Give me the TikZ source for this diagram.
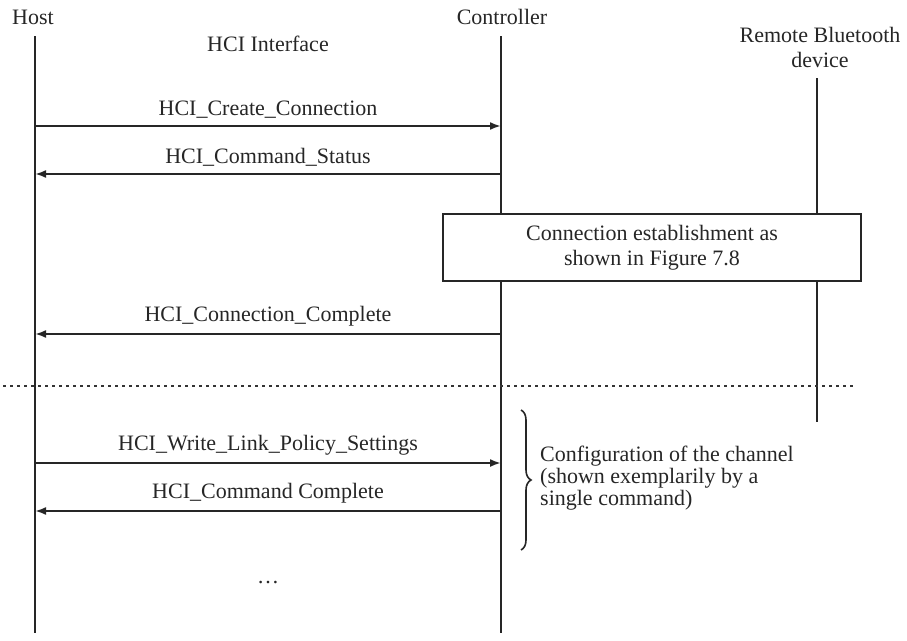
\documentclass[tikz,border=0pt]{standalone}
\usepackage{fontspec}
\setmainfont{Liberation Serif}
\usetikzlibrary{arrows.meta,decorations.pathreplacing}
\begin{document}
\begin{tikzpicture}[x=1pt,y=-1pt,
  every node/.style={font=\fontsize{22}{25}\selectfont, inner sep=0pt, text=black!85},
  lifeline/.style={line width=2.4pt, draw=black!85},
  msg/.style={line width=2pt, draw=black!85, -{Latex[length=11pt,width=8pt]}},
  lbl/.style={anchor=south, yshift=7pt},
  procbox/.style={draw=black!85, line width=2.4pt, fill=white, minimum width=418pt, minimum height=67pt, align=center},
  sep/.style={line width=2.8pt, draw=black!80, dash pattern=on 2.8pt off 4.2pt}]
\useasboundingbox (0,0) rectangle (907,640);
% headers
\node (host) at (33,17) {Host};
\node (ctrl) at (502,17) {Controller};
\node (hci) at (268,44) {HCI Interface};
\node[align=center] (remote) at (820,47) {Remote Bluetooth\\device};
% lifeline end points
\coordinate (hT) at (35,36);  \coordinate (hB) at (35,633);
\coordinate (cT) at (501,36); \coordinate (cB) at (501,633);
\coordinate (rT) at (817,78); \coordinate (rB) at (817,422);
\draw[lifeline] (hT) -- (hB);
\draw[lifeline] (cT) -- (cB);
\draw[lifeline] (rT) -- (rB);
% message anchors
\coordinate (h1) at (35,126); \coordinate (c1) at (501,126);
\coordinate (h2) at (35,174); \coordinate (c2) at (501,174);
\coordinate (h3) at (35,334); \coordinate (c3) at (501,334);
\coordinate (h4) at (35,463); \coordinate (c4) at (501,463);
\coordinate (h5) at (35,511); \coordinate (c5) at (501,511);
\draw[msg] (h1) -- node[lbl] (m1) {HCI\_Create\_Connection} (c1);
\draw[msg] (c2) -- node[lbl] (m2) {HCI\_Command\_Status} (h2);
\draw[msg] (c3) -- node[lbl] (m3) {HCI\_Connection\_Complete} (h3);
\draw[msg] (h4) -- node[lbl] (m4) {HCI\_Write\_Link\_Policy\_Settings} (c4);
\draw[msg] (c5) -- node[lbl] (m5) {HCI\_Command Complete} (h5);
% box
\node[procbox] (est) at (652,247.5) {Connection establishment as\\shown in Figure 7.8};
% separator
\coordinate (sL) at (3,386); \coordinate (sR) at (855,386);
\draw[sep] (sL) -- (sR);
% brace
\coordinate (bT) at (521,410); \coordinate (bB) at (521,550);
\draw[line width=1.6pt, draw=black!85, decorate, decoration={brace, amplitude=10pt}] (bT) -- (bB);
\node[anchor=west, align=left, font=\fontsize{22}{22}\selectfont] (conf) at (540,478) {Configuration of the channel\\(shown exemplarily by a\\single command)};
% ellipsis
\node (dots) at (268,583) {\dots};
\end{tikzpicture}
\end{document}
